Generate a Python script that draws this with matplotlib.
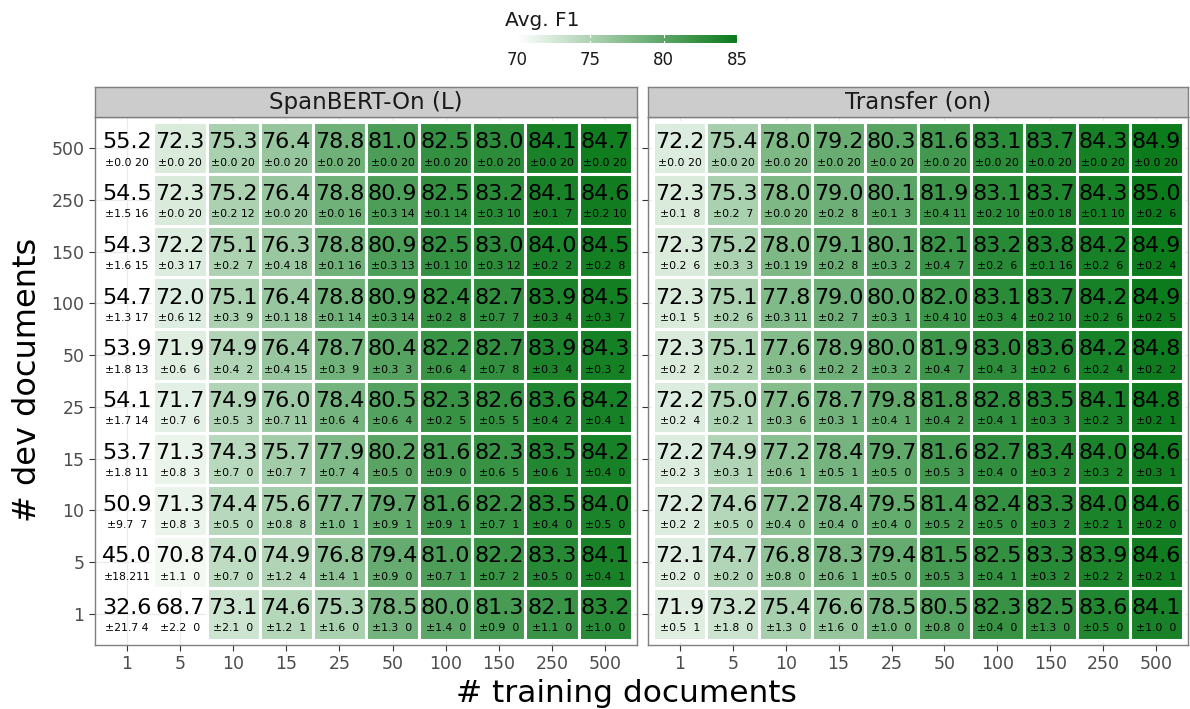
import numpy as np
import matplotlib
matplotlib.use('Agg')
import matplotlib.pyplot as plt
from matplotlib.colors import LinearSegmentedColormap, Normalize
from matplotlib.patches import Rectangle

# 軸のカテゴリ
train_docs = ["1", "5", "10", "15", "25", "50", "100", "150", "250", "500"]
dev_docs = ["500", "250", "150", "100", "50", "25", "15", "10", "5", "1"]  # 上から順

# SpanBERT-On (L): 平均F1, 標準偏差, 回数 (行 = dev 500 -> 1)
span_f1 = [
    [55.2, 72.3, 75.3, 76.4, 78.8, 81.0, 82.5, 83.0, 84.1, 84.7],
    [54.5, 72.3, 75.2, 76.4, 78.8, 80.9, 82.5, 83.2, 84.1, 84.6],
    [54.3, 72.2, 75.1, 76.3, 78.8, 80.9, 82.5, 83.0, 84.0, 84.5],
    [54.7, 72.0, 75.1, 76.4, 78.8, 80.9, 82.4, 82.7, 83.9, 84.5],
    [53.9, 71.9, 74.9, 76.4, 78.7, 80.4, 82.2, 82.7, 83.9, 84.3],
    [54.1, 71.7, 74.9, 76.0, 78.4, 80.5, 82.3, 82.6, 83.6, 84.2],
    [53.7, 71.3, 74.3, 75.7, 77.9, 80.2, 81.6, 82.3, 83.5, 84.2],
    [50.9, 71.3, 74.4, 75.6, 77.7, 79.7, 81.6, 82.2, 83.5, 84.0],
    [45.0, 70.8, 74.0, 74.9, 76.8, 79.4, 81.0, 82.2, 83.3, 84.1],
    [32.6, 68.7, 73.1, 74.6, 75.3, 78.5, 80.0, 81.3, 82.1, 83.2],
]
span_sd = [
    [0.0, 0.0, 0.0, 0.0, 0.0, 0.0, 0.0, 0.0, 0.0, 0.0],
    [1.5, 0.0, 0.2, 0.0, 0.0, 0.3, 0.1, 0.3, 0.1, 0.2],
    [1.6, 0.3, 0.2, 0.4, 0.1, 0.3, 0.1, 0.3, 0.2, 0.2],
    [1.3, 0.6, 0.3, 0.1, 0.1, 0.3, 0.2, 0.7, 0.3, 0.3],
    [1.8, 0.6, 0.4, 0.4, 0.3, 0.3, 0.6, 0.7, 0.3, 0.3],
    [1.7, 0.7, 0.5, 0.7, 0.6, 0.6, 0.2, 0.5, 0.4, 0.4],
    [1.8, 0.8, 0.7, 0.7, 0.7, 0.5, 0.9, 0.6, 0.6, 0.4],
    [9.7, 0.8, 0.5, 0.8, 1.0, 0.9, 0.9, 0.7, 0.4, 0.5],
    [18.2, 1.1, 0.7, 1.2, 1.4, 0.9, 0.7, 0.7, 0.5, 0.4],
    [21.7, 2.2, 2.1, 1.2, 1.6, 1.3, 1.4, 0.9, 1.1, 1.0],
]
span_n = [
    [20, 20, 20, 20, 20, 20, 20, 20, 20, 20],
    [16, 20, 12, 20, 16, 14, 14, 10, 7, 10],
    [15, 17, 7, 18, 16, 13, 10, 12, 2, 8],
    [17, 12, 9, 18, 14, 14, 8, 7, 4, 7],
    [13, 6, 2, 15, 9, 3, 4, 8, 4, 2],
    [14, 6, 3, 11, 4, 4, 5, 5, 2, 1],
    [11, 3, 0, 7, 4, 0, 0, 5, 1, 0],
    [7, 3, 0, 8, 1, 1, 1, 1, 0, 0],
    [11, 0, 0, 4, 1, 0, 1, 2, 0, 1],
    [4, 0, 0, 1, 0, 0, 0, 0, 0, 0],
]

# Transfer (on)
trans_f1 = [
    [72.2, 75.4, 78.0, 79.2, 80.3, 81.6, 83.1, 83.7, 84.3, 84.9],
    [72.3, 75.3, 78.0, 79.0, 80.1, 81.9, 83.1, 83.7, 84.3, 85.0],
    [72.3, 75.2, 78.0, 79.1, 80.1, 82.1, 83.2, 83.8, 84.2, 84.9],
    [72.3, 75.1, 77.8, 79.0, 80.0, 82.0, 83.1, 83.7, 84.2, 84.9],
    [72.3, 75.1, 77.6, 78.9, 80.0, 81.9, 83.0, 83.6, 84.2, 84.8],
    [72.2, 75.0, 77.6, 78.7, 79.8, 81.8, 82.8, 83.5, 84.1, 84.8],
    [72.2, 74.9, 77.2, 78.4, 79.7, 81.6, 82.7, 83.4, 84.0, 84.6],
    [72.2, 74.6, 77.2, 78.4, 79.5, 81.4, 82.4, 83.3, 84.0, 84.6],
    [72.1, 74.7, 76.8, 78.3, 79.4, 81.5, 82.5, 83.3, 83.9, 84.6],
    [71.9, 73.2, 75.4, 76.6, 78.5, 80.5, 82.3, 82.5, 83.6, 84.1],
]
trans_sd = [
    [0.0, 0.0, 0.0, 0.0, 0.0, 0.0, 0.0, 0.0, 0.0, 0.0],
    [0.1, 0.2, 0.0, 0.2, 0.1, 0.4, 0.2, 0.0, 0.1, 0.2],
    [0.2, 0.3, 0.1, 0.2, 0.3, 0.4, 0.2, 0.1, 0.2, 0.2],
    [0.1, 0.2, 0.3, 0.2, 0.3, 0.4, 0.3, 0.2, 0.2, 0.2],
    [0.2, 0.2, 0.3, 0.2, 0.3, 0.4, 0.4, 0.2, 0.2, 0.2],
    [0.2, 0.2, 0.3, 0.3, 0.4, 0.4, 0.4, 0.3, 0.2, 0.2],
    [0.2, 0.3, 0.6, 0.5, 0.5, 0.5, 0.4, 0.3, 0.3, 0.3],
    [0.2, 0.5, 0.4, 0.4, 0.4, 0.5, 0.5, 0.3, 0.2, 0.2],
    [0.2, 0.2, 0.8, 0.6, 0.5, 0.5, 0.4, 0.3, 0.2, 0.2],
    [0.5, 1.8, 1.3, 1.6, 1.0, 0.8, 0.4, 1.3, 0.5, 1.0],
]
trans_n = [
    [20, 20, 20, 20, 20, 20, 20, 20, 20, 20],
    [8, 7, 20, 8, 3, 11, 10, 18, 10, 6],
    [6, 3, 19, 8, 2, 7, 6, 16, 6, 4],
    [5, 6, 11, 7, 1, 10, 4, 10, 6, 5],
    [2, 2, 6, 2, 2, 7, 3, 6, 4, 2],
    [4, 1, 6, 1, 1, 2, 1, 3, 3, 1],
    [3, 1, 1, 1, 0, 3, 0, 2, 2, 1],
    [2, 0, 0, 0, 0, 2, 0, 2, 1, 0],
    [0, 0, 0, 1, 0, 3, 1, 2, 2, 1],
    [1, 0, 0, 0, 0, 0, 0, 0, 0, 0],
]

panels = [("SpanBERT-On (L)", span_f1, span_sd, span_n),
          ("Transfer (on)", trans_f1, trans_sd, trans_n)]

vmin, vmax = 70, 85
cmap = LinearSegmentedColormap.from_list("f1", ["#ffffff", "#0b7a1b"])
norm = Normalize(vmin, vmax)

W, H = 1190, 709
fig = plt.figure(figsize=(W / 100, H / 100), dpi=100)

def px_axes(x0, y0, x1, y1):
    # ピクセル座標(上基準)からaxesを作る
    return fig.add_axes([x0 / W, 1 - y1 / H, (x1 - x0) / W, (y1 - y0) / H])

panel_x = [(95, 637), (648, 1188)]
top, bottom = 117, 645
strip_top = 87

for (title, f1, sd, n), (x0, x1) in zip(panels, panel_x):
    ax = px_axes(x0, top, x1, bottom)
    f1 = np.array(f1)
    nrow = len(dev_docs)
    for i in range(nrow):
        yy = nrow - 1 - i
        ax.axhline(yy, color="#ebebeb", lw=0.9, zorder=0)
    for j in range(len(train_docs)):
        ax.axvline(j, color="#ebebeb", lw=0.9, zorder=0)
    for i in range(nrow):
        yy = nrow - 1 - i
        for j in range(len(train_docs)):
            v = f1[i, j]
            if vmin <= v <= vmax:
                ax.add_patch(Rectangle((j - 0.5, yy - 0.5), 1, 1,
                                       facecolor=cmap(norm(v)), edgecolor="white",
                                       lw=2.2, zorder=1))
            ax.text(j, yy + 0.11, f"{v:.1f}", ha="center", va="center",
                    fontsize=16, color="black", zorder=3)
            s = f"±{sd[i][j]:.1f}"
            s = s + str(n[i][j]).rjust(7 - len(s))
            ax.text(j, yy - 0.28, s, ha="center", va="center",
                    fontsize=7.8, color="black", zorder=3)
    ax.set_xlim(-0.6, len(train_docs) - 0.4)
    ax.set_ylim(-0.6, nrow - 0.4)
    ax.set_xticks(range(len(train_docs)))
    ax.set_xticklabels(train_docs)
    ax.set_yticks(range(nrow))
    if x0 < 600:
        ax.set_yticklabels(dev_docs[::-1])
    else:
        ax.set_yticklabels([])
    ax.tick_params(labelsize=12.5, labelcolor="#4d4d4d", color="#333333",
                   length=4, width=0.8)
    for sp in ax.spines.values():
        sp.set_color("#7f7f7f")
        sp.set_linewidth(1.0)

    sax = px_axes(x0, strip_top, x1, top)
    sax.set_facecolor("#cccccc")
    sax.set_xticks([])
    sax.set_yticks([])
    for sp in sax.spines.values():
        sp.set_color("#7f7f7f")
        sp.set_linewidth(1.0)
    sax.text(0.5, 0.5, title, ha="center", va="center", fontsize=16.5,
             color="#1a1a1a", transform=sax.transAxes)

# カラーバー凡例
cax = px_axes(517, 35, 737, 43)
grad = np.linspace(vmin, vmax, 256).reshape(1, -1)
cax.imshow(grad, aspect="auto", cmap=cmap, norm=norm,
           extent=[vmin, vmax, 0, 1])
cax.set_xlim(vmin, vmax)
cax.set_yticks([])
cax.set_xticks([70, 75, 80, 85])
cax.tick_params(axis="x", length=0, labelsize=12, labelcolor="#1a1a1a", pad=6)
for t in [70, 75, 80, 85]:
    cax.axvline(t, ymin=0, ymax=0.2, color="white", lw=0.8)
    cax.axvline(t, ymin=0.8, ymax=1, color="white", lw=0.8)
for sp in cax.spines.values():
    sp.set_visible(False)
fig.text(505 / W, 1 - 20 / H, "Avg. F1", ha="left", va="center",
         fontsize=14.5, color="#1a1a1a")

fig.text(626 / W, 1 - 693 / H, "# training documents", ha="center",
         va="center", fontsize=22.5)
fig.text(28 / W, 1 - 380 / H, "# dev documents", ha="center", va="center",
         fontsize=23, rotation=90)

fig.savefig("out.png", dpi=100)
plt.close()
